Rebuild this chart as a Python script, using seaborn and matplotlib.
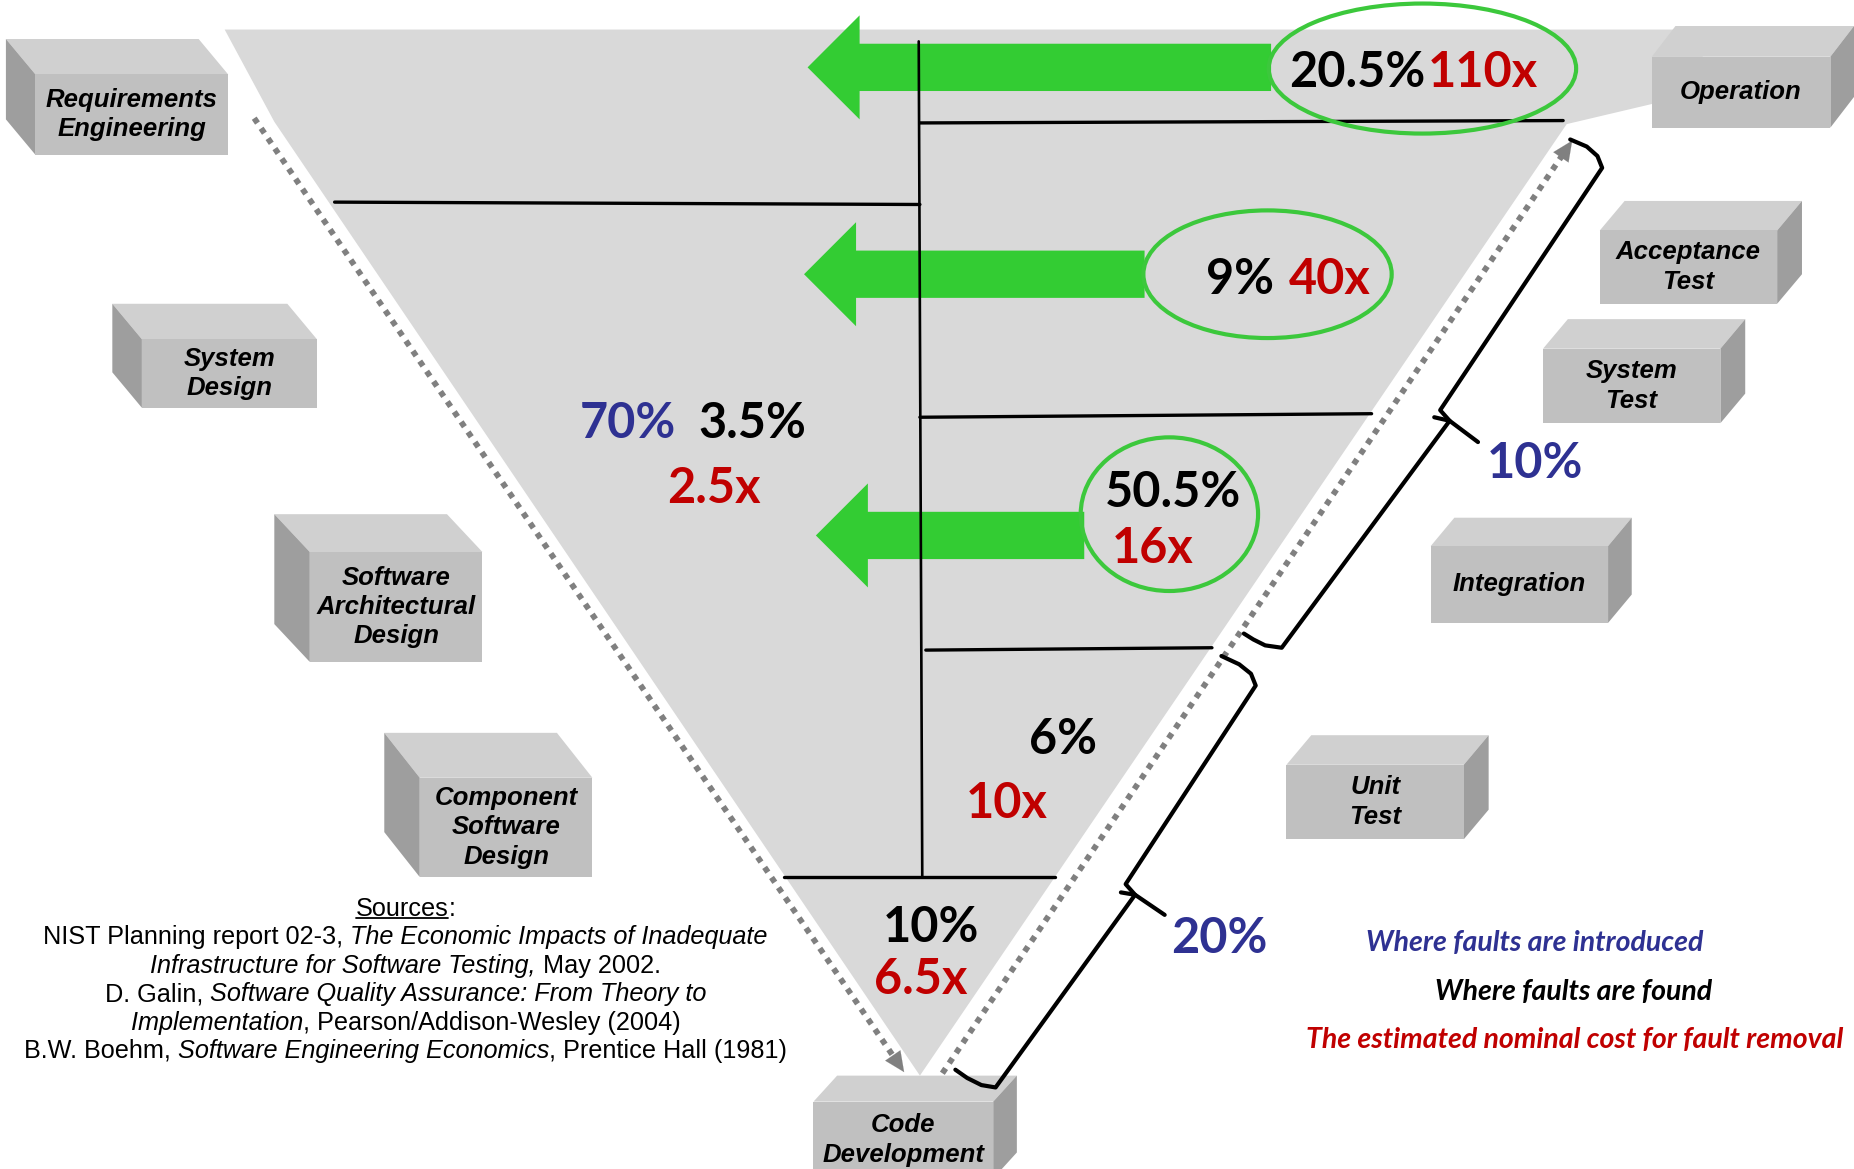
import matplotlib
matplotlib.use("Agg")
import matplotlib.pyplot as plt
from matplotlib.patches import Polygon, Ellipse
from matplotlib import font_manager
import seaborn as sns
import pandas as pd
import numpy as np

# ---------------- data ----------------
design_phases = ["Requirements\nEngineering", "System\nDesign",
                 "Software\nArchitectural\nDesign", "Component\nSoftware\nDesign"]
test_phases = ["Operation", "Acceptance\nTest", "System\nTest", "Integration", "Unit\nTest"]
code_phase = "Code\nDevelopment"

found_pct = ["20.5%", "9%", "50.5%", "3.5%", "6%", "10%"]
fix_cost = ["110x", "40x", "16x", "2.5x", "10x", "6.5x"]
introduced_pct = ["70%", "10%", "20%"]
legend_labels = ["Where faults are introduced", "Where faults are found",
                 "The estimated nominal cost for fault removal"]
sources = [
    [("Sources", "normal", False), (":", "normal", False)],
    [("NIST Planning report 02-3,", "normal", True), ("The Economic Impacts of Inadequate", "italic", False)],
    [("Infrastructure for Software Testing,", "italic", True), ("May 2002.", "normal", False)],
    [("D. Galin,", "normal", True), ("Software Quality Assurance: From Theory to", "italic", False)],
    [("Implementation", "italic", False), (", Pearson/Addison-Wesley (2004)", "normal", False)],
    [("B.W. Boehm,", "normal", True), ("Software Engineering Economics", "italic", False),
     (", Prentice Hall (1981)", "normal", False)],
]

# ---------------- style ----------------
BLUE = "#2E3192"
RED = "#C00000"
GREEN = "#33CC33"
FUNNEL = "#D9D9D9"
DOTS = "#808080"

sns.set_theme(style="white")
plt.rcParams["font.family"] = ["Liberation Sans", "DejaVu Sans"]

names = {f.name for f in font_manager.fontManager.ttflist}
NARROW = "Liberation Sans Narrow" if "Liberation Sans Narrow" in names else "Liberation Sans"
SFS = 16.0 if NARROW == "Liberation Sans Narrow" else 18.2
NUMFONT = "Lato" if "Lato" in names else "DejaVu Sans"

W, H = 1568, 989
fig = plt.figure(figsize=(18.54, 11.69), dpi=100)
ax = fig.add_axes([0, 0, 1, 1])
ax.set_xlim(0, W)
ax.set_ylim(H, 0)
ax.axis("off")
K = W / 1854.0  # data units per pixel

# ---------------- funnel ----------------
funnel = [(190, 25), (1440, 25), (1440, 80), (1397, 88), (1325, 105),
          (778, 910), (232, 103)]
ax.add_patch(Polygon(funnel, closed=True, fc=FUNNEL, ec="none", zorder=1))

# ---------------- boxes ----------------
def box(x0, y0, x1, y1, dx, dy, side, text, fs=18.5):
    front = "#C0C0C0"; top = "#D0D0D0"; sidec = "#9E9E9E"
    if side == "left":
        tp = [(x0, y0), (x0 - dx, y0 - dy), (x1 - dx, y0 - dy), (x1, y0)]
        sp = [(x0, y0), (x0 - dx, y0 - dy), (x0 - dx, y1 - dy), (x0, y1)]
    else:
        tp = [(x0, y0), (x0 + dx, y0 - dy), (x1 + dx, y0 - dy), (x1, y0)]
        sp = [(x1, y0), (x1 + dx, y0 - dy), (x1 + dx, y1 - dy), (x1, y1)]
    ax.add_patch(Polygon(tp, closed=True, fc=top, ec="none", zorder=5))
    ax.add_patch(Polygon(sp, closed=True, fc=sidec, ec="none", zorder=5))
    ax.add_patch(Polygon([(x0, y0), (x1, y0), (x1, y1), (x0, y1)], closed=True,
                         fc=front, ec="none", zorder=5))
    ax.text((x0 + x1) / 2, (y0 + y1) / 2, text, ha="center", va="center",
            fontsize=fs, fontweight="bold", style="italic", linespacing=1.28,
            color="black", zorder=6, family=["Liberation Sans", "DejaVu Sans"])

design_boxes = [(30, 63, 193, 131, 25, 30), (120, 287, 268, 345, 25, 30),
                (262, 467, 408, 560, 30, 32), (355, 658, 501, 742, 30, 38)]
for lab, b in zip(design_phases, design_boxes):
    box(*b, "left", lab)

test_boxes = [(1397, 48, 1548, 108, 20, 26), (1353, 195, 1503, 257, 21, 25),
              (1305, 295, 1455, 358, 21, 25), (1210, 462, 1360, 527, 20, 24),
              (1088, 647, 1238, 710, 21, 25)]
for lab, b in zip(test_phases, test_boxes):
    box(*b, "right", lab)
box(688, 932, 840, 997, 20, 22, "right", code_phase)

# ---------------- dotted arrows ----------------
def dotted_arrow(p0, p1):
    p0 = np.array(p0, float); p1 = np.array(p1, float)
    d = (p1 - p0) / np.linalg.norm(p1 - p0)
    q = p1 - d * 14
    ax.plot([p0[0], q[0]], [p0[1], q[1]], color=DOTS, lw=4.2,
            linestyle=(0, (1.0, 1.1)), dash_capstyle="butt", zorder=3)
    ax.annotate("", xy=tuple(p1), xytext=tuple(p1 - d * 20),
                arrowprops=dict(arrowstyle="-|>,head_length=1.2,head_width=0.55",
                                color=DOTS, lw=0.1), zorder=3)

dotted_arrow((215, 100), (766, 909))
dotted_arrow((797, 908), (1331, 117))

# ---------------- green arrows ----------------
arrow_y = [57, 232, 453]
arrow_tip = [683, 680, 690]
arrow_end = [1075, 968, 917]
for yc, xt, xe in zip(arrow_y, arrow_tip, arrow_end):
    hb = xt + 44
    pts = [(xt, yc), (hb, yc - 44), (hb, yc - 20), (xe, yc - 20),
           (xe, yc + 20), (hb, yc + 20), (hb, yc + 44)]
    ax.add_patch(Polygon(pts, closed=True, fc=GREEN, ec="none", zorder=2))

# ---------------- separator lines (seaborn) ----------------
segs = [((778, 104), (1322, 102)), ((283, 171), (778, 173)),
        ((778, 353), (1160, 350)), ((783, 550), (1025, 548)),
        ((663, 742), (892, 742))]
rows = []
for i, (a, b) in enumerate(segs):
    rows += [dict(seg=i, x=a[0], y=a[1]), dict(seg=i, x=b[0], y=b[1])]
df = pd.DataFrame(rows)
sns.lineplot(data=df, x="x", y="y", units="seg", estimator=None, sort=False,
             color="black", lw=2.4, ax=ax, legend=False, zorder=4)
vdf = pd.DataFrame(dict(x=[777, 780], y=[35, 742]))
sns.lineplot(data=vdf, x="x", y="y", estimator=None, sort=False,
             color="black", lw=1.9, ax=ax, legend=False, zorder=4)
ax.set_xlim(0, W)
ax.set_ylim(H, 0)
ax.axis("off")

# ---------------- ellipses ----------------
ells = [((1203, 58), 260, 110), ((1072, 232), 210, 108), ((989, 435), 150, 130)]
for c, w, h in ells:
    ax.add_patch(Ellipse(c, w, h, fc="none", ec="#3CC83C", lw=3.0, zorder=4))

# ---------------- numbers ----------------
NFS = 35
found_pos = [(1148, 58), (1049, 233), (992, 413), (636, 355), (899, 622), (787, 781)]
cost_pos = [(1254, 58), (1125, 233), (975, 461), (604, 410), (851, 676), (779, 825)]
intro_pos = [(531, 355), (1298, 389), (1031, 791)]
for s, (x, y) in zip(found_pct, found_pos):
    ax.text(x, y, s, ha="center", va="center_baseline", fontsize=NFS, fontweight="bold",
            color="black", family=NUMFONT, zorder=7)
for s, (x, y) in zip(fix_cost, cost_pos):
    ax.text(x, y, s, ha="center", va="center_baseline", fontsize=NFS, fontweight="bold",
            color=RED, family=NUMFONT, zorder=7)
for s, (x, y) in zip(introduced_pct, intro_pos):
    ax.text(x, y, s, ha="center", va="center_baseline", fontsize=NFS, fontweight="bold",
            color=BLUE, family=NUMFONT, zorder=7)

# ---------------- braces ----------------
BR = dict(color="black", lw=3.0, solid_capstyle="round", solid_joinstyle="round", zorder=8)
b1a = [(1328, 118), (1342, 124), (1351, 132), (1355, 142), (1218, 347), (1226, 356), (1250, 374)]
b1b = [(1213, 353), (1226, 356), (1084, 548), (1070, 546), (1060, 541), (1052, 536)]
b2a = [(1033, 555), (1048, 562), (1058, 570), (1062, 580), (952, 748), (960, 757), (985, 774)]
b2b = [(948, 755), (960, 757), (842, 920), (830, 918), (818, 912), (808, 905)]
for pts in (b1a, b1b, b2a, b2b):
    xs, ys = zip(*pts)
    ax.plot(xs, ys, **BR)

# ---------------- legend texts ----------------
leg_pos = [(1298, 796), (1331, 837), (1332, 878)]
leg_col = [BLUE, "black", RED]
for s, (x, y), c in zip(legend_labels, leg_pos, leg_col):
    ax.text(x, y, s, ha="center", va="center_baseline", fontsize=20.5, style="italic",
            fontweight="bold", color=c, family=NUMFONT, zorder=7)

# ---------------- sources ----------------
fig.canvas.draw()
r = fig.canvas.get_renderer()
def width_px(s, style):
    t = ax.text(0, 0, s, fontsize=SFS, style=style, family=NARROW)
    w = t.get_window_extent(renderer=r).width
    t.remove()
    return w
space_px = width_px("a a", "normal") - width_px("aa", "normal")

src_y = [767, 791, 815, 839, 863, 887]
cx = 343
for line, y in zip(sources, src_y):
    ws = [width_px(s, st) + (space_px if sp else 0) for s, st, sp in line]
    x = cx - sum(ws) * K / 2
    for (s, st, sp), w in zip(line, ws):
        ax.text(x, y, s, ha="left", va="center_baseline", fontsize=SFS, style=st,
                family=NARROW, color="black", zorder=7)
        if s == "Sources":
            ax.plot([x, x + w * K], [y + 10, y + 10], color="black", lw=1.3, zorder=7)
        x += w * K

fig.savefig("out.png", dpi=100, facecolor="white")
